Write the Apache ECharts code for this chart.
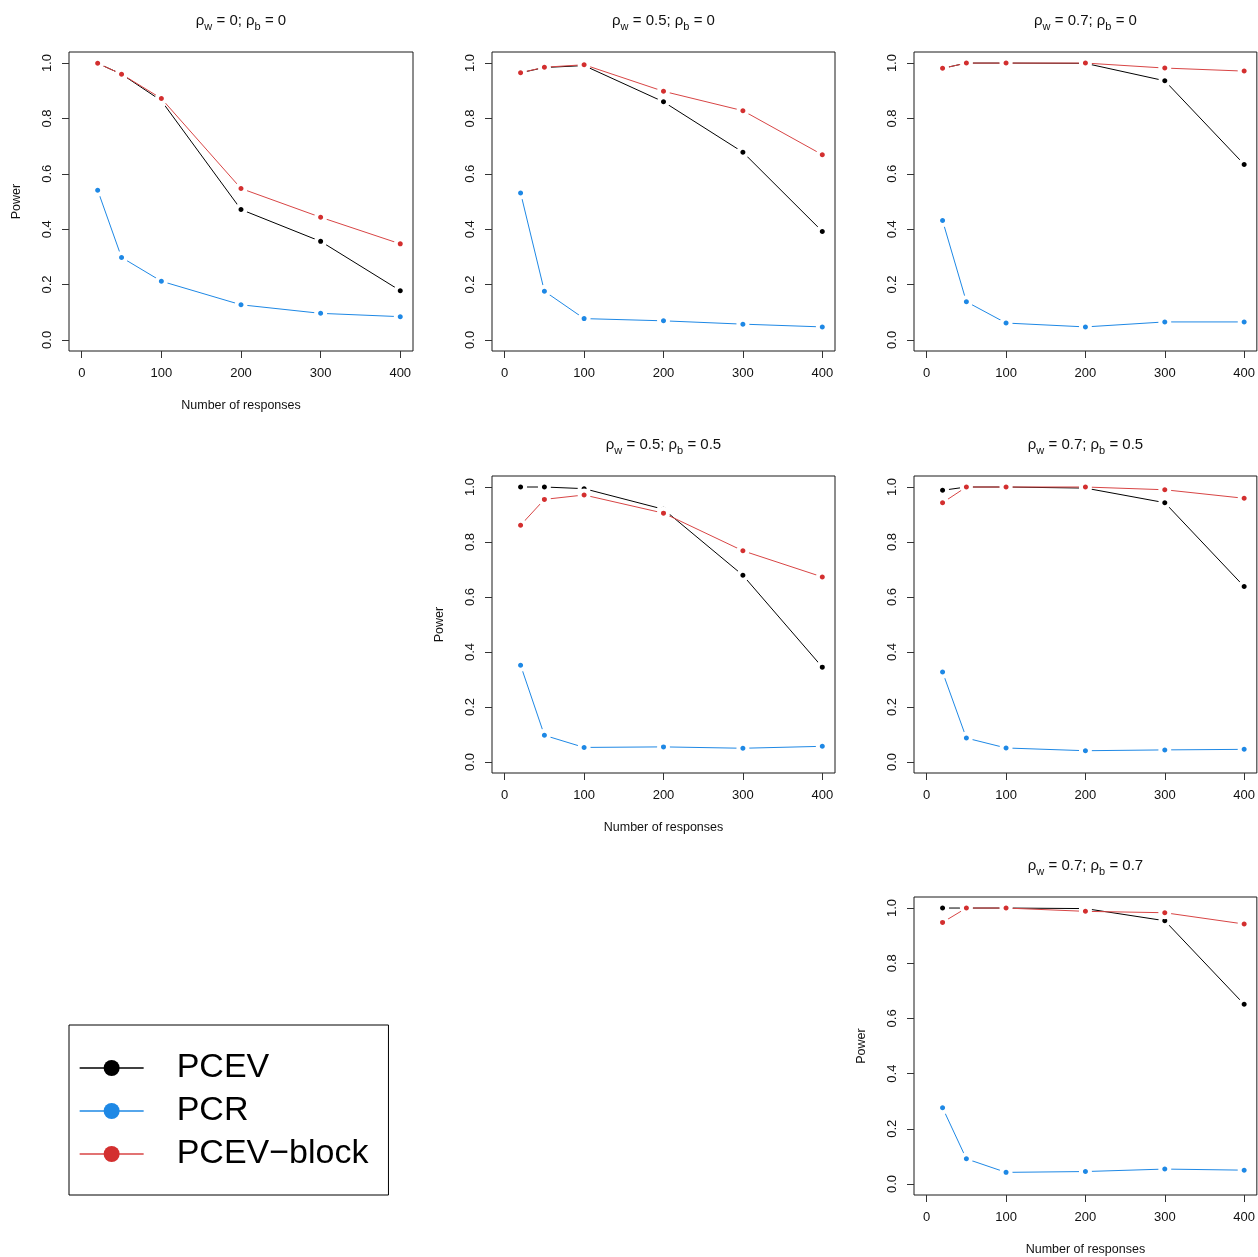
<!DOCTYPE html>
<html>
<head>
<meta charset="utf-8">
<script src="https://cdn.jsdelivr.net/npm/echarts@6/dist/echarts.min.js"></script>
<style>
html,body{margin:0;padding:0;background:#fff;}
#chart{width:1258px;height:1257px;}
</style>
</head>
<body>
<div id="chart"></div>
<script>
// ---- Data ----
const responses = [20, 50, 100, 200, 300, 400];
const xTicks = [0, 100, 200, 300, 400];
const yTicks = [0, 0.2, 0.4, 0.6, 0.8, 1.0];
const seriesNames = ['PCEV', 'PCR', 'PCEV\u2212block'];

// panel: rho_w = 0; rho_b = 0
const pcev_w0_b0  = [0.999, 0.960, 0.864, 0.471, 0.356, 0.178];
const pcr_w0_b0   = [0.541, 0.298, 0.212, 0.127, 0.096, 0.084];
const block_w0_b0 = [0.999, 0.960, 0.872, 0.547, 0.443, 0.347];
// panel: rho_w = 0.5; rho_b = 0
const pcev_w5_b0  = [0.965, 0.984, 0.991, 0.860, 0.678, 0.392];
const pcr_w5_b0   = [0.531, 0.176, 0.077, 0.069, 0.057, 0.047];
const block_w5_b0 = [0.965, 0.985, 0.994, 0.898, 0.828, 0.669];
// panel: rho_w = 0.7; rho_b = 0
const pcev_w7_b0  = [0.981, 1.000, 1.000, 0.999, 0.936, 0.634];
const pcr_w7_b0   = [0.431, 0.138, 0.061, 0.047, 0.065, 0.065];
const block_w7_b0 = [0.981, 1.000, 1.000, 1.000, 0.982, 0.971];
// panel: rho_w = 0.5; rho_b = 0.5
const pcev_w5_b5  = [1.000, 1.000, 0.994, 0.919, 0.679, 0.345];
const pcr_w5_b5   = [0.352, 0.097, 0.053, 0.055, 0.050, 0.057];
const block_w5_b5 = [0.861, 0.955, 0.971, 0.905, 0.768, 0.673];
// panel: rho_w = 0.7; rho_b = 0.5
const pcev_w7_b5  = [0.988, 1.000, 1.000, 0.996, 0.943, 0.638];
const pcr_w7_b5   = [0.327, 0.087, 0.051, 0.041, 0.044, 0.046];
const block_w7_b5 = [0.943, 1.000, 1.000, 1.000, 0.990, 0.959];
// panel: rho_w = 0.7; rho_b = 0.7
const pcev_w7_b7  = [1.000, 1.000, 1.000, 0.998, 0.954, 0.651];
const pcr_w7_b7   = [0.276, 0.091, 0.042, 0.045, 0.054, 0.050];
const block_w7_b7 = [0.948, 1.000, 1.000, 0.988, 0.983, 0.942];

const rhoW = ['0', '0.5', '0.7', '0.5', '0.7', '0.7'];
const rhoB = ['0', '0', '0', '0.5', '0.5', '0.7'];

// ---- Layout ----
const FONT = '"Liberation Sans", Arial, Helvetica, sans-serif';
const colLeft = [69, 492, 914];
const colWidth = [344, 343, 343];
const rowTop = [52, 476, 897];
const rowHeight = [299, 297, 298];
const panels = [
  {r:0, c:0, data:[pcev_w0_b0, pcr_w0_b0, block_w0_b0], labels:true},
  {r:0, c:1, data:[pcev_w5_b0, pcr_w5_b0, block_w5_b0], labels:false},
  {r:0, c:2, data:[pcev_w7_b0, pcr_w7_b0, block_w7_b0], labels:false},
  {r:1, c:1, data:[pcev_w5_b5, pcr_w5_b5, block_w5_b5], labels:true},
  {r:1, c:2, data:[pcev_w7_b5, pcr_w7_b5, block_w7_b5], labels:false},
  {r:2, c:2, data:[pcev_w7_b7, pcr_w7_b7, block_w7_b7], labels:true}
];
const colors = ['#000000', '#1E88E5', '#D32F2F'];
const lineColors = ['#000000', '#1E88E5', '#D84545'];

const grids = [], xAxes = [], yAxes = [], titles = [], series = [];
panels.forEach((p, i) => {
  const left = colLeft[p.c], top = rowTop[p.r], w = colWidth[p.c], h = rowHeight[p.r];
  grids.push({left: left, top: top, width: w, height: h, show: true,
    borderColor: '#1a1a1a', borderWidth: 1, backgroundColor: 'transparent', containLabel: false});
  xAxes.push({
    gridIndex: i, type: 'value', min: -16, max: 416, position: 'bottom',
    axisLine: {show: false, onZero: false},
    axisTick: {show: true, inside: false, length: 7, lineStyle: {color: '#333', width: 1}, customValues: xTicks},
    axisLabel: {show: true, margin: 16, fontSize: 13, fontFamily: FONT, color: '#111', customValues: xTicks},
    splitLine: {show: false},
    name: p.labels ? 'Number of responses' : '',
    nameLocation: 'middle', nameGap: 48,
    nameTextStyle: {fontSize: 12.5, fontFamily: FONT, color: '#111'}
  });
  yAxes.push({
    gridIndex: i, type: 'value', min: -0.04, max: 1.04, position: 'left',
    axisLine: {show: false, onZero: false},
    axisTick: {show: true, inside: false, length: 7, lineStyle: {color: '#333', width: 1}, customValues: yTicks},
    axisLabel: {show: true, margin: 15, fontSize: 13, fontFamily: FONT, color: '#111', rotate: 90,
      customValues: yTicks, formatter: v => v.toFixed(1)},
    splitLine: {show: false},
    name: p.labels ? 'Power' : '',
    nameLocation: 'middle', nameGap: 46, nameRotate: 90,
    nameTextStyle: {fontSize: 12.5, fontFamily: FONT, color: '#111'}
  });
  titles.push({
    left: left + w / 2, top: top - 42, textAlign: 'center', padding: 0,
    text: '{a|\u03C1}{s|w}{a| = ' + rhoW[i] + '; \u03C1}{s|b}{a| = ' + rhoB[i] + '}',
    textStyle: {
      fontWeight: 'normal',
      rich: {
        a: {fontSize: 15, fontFamily: FONT, fontWeight: 'normal', color: '#111', lineHeight: 20, verticalAlign: 'middle'},
        s: {fontSize: 11, fontFamily: FONT, fontWeight: 'normal', color: '#111', lineHeight: 22, verticalAlign: 'bottom'}
      }
    }
  });
  p.data.forEach((vals, k) => {
    series.push({
      name: seriesNames[k], type: 'line', xAxisIndex: i, yAxisIndex: i,
      data: responses.map((x, j) => [x, vals[j]]),
      symbol: 'circle', symbolSize: 9,
      lineStyle: {color: lineColors[k], width: 1},
      itemStyle: {color: colors[k], borderColor: '#ffffff', borderWidth: 4},
      emphasis: {disabled: true},
      animation: false, clip: false, z: 2 + k
    });
  });
});

const chart = echarts.init(document.getElementById('chart'), null, {renderer: 'canvas'});
chart.setOption({
  backgroundColor: '#fff',
  animation: false,
  title: titles,
  grid: grids,
  xAxis: xAxes,
  yAxis: yAxes,
  series: series,
  legend: {
    data: seriesNames,
    orient: 'vertical', left: 69, top: 1025,
    padding: [26, 20, 24, 10],
    itemWidth: 64, itemHeight: 20, itemGap: 9,
    borderColor: '#000', borderWidth: 1,
    selectedMode: false,
    itemStyle: {borderWidth: 0},
    lineStyle: {width: 1.3},
    textStyle: {fontSize: 34, fontFamily: FONT, color: '#000', padding: [0, 0, 0, 28]}
  }
});
</script>
</body>
</html>
